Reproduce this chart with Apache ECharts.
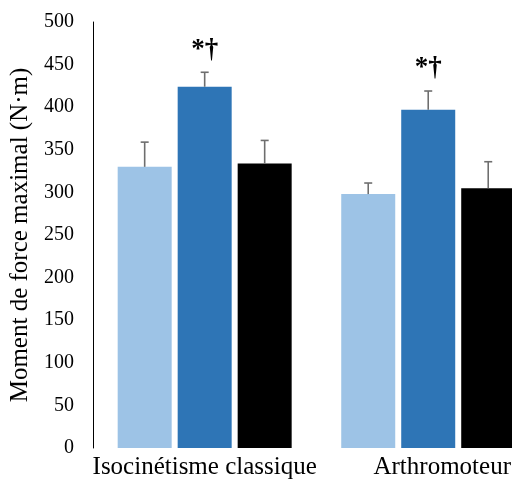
<!DOCTYPE html>
<html>
<head>
<meta charset="utf-8">
<script src="https://cdn.jsdelivr.net/npm/echarts@6/dist/echarts.min.js"></script>
<style>html,body{margin:0;padding:0;background:#fff;overflow:hidden;width:512px;height:480px}#c{width:540px;height:480px}</style>
</head>
<body>
<div id="c"></div>
<script>
var categories = ['Isocinétisme classique', 'Arthromoteur'];
var seriesNames = ['Série 1', 'Série 2', 'Série 3'];
var seriesColors = ['#9dc3e6', '#2e75b6', '#000000'];
var values1 = [330, 298];
var values2 = [424, 397];
var values3 = [334, 305];
var errors1 = [29, 13];
var errors2 = [17, 22];
var errors3 = [27, 31];
var annotations2 = ['*†', '*†'];
var yTicks = {min: 0, max: 500, interval: 50};

var values = [values1, values2, values3];
var errors = [errors1, errors2, errors3];
var annotations = [null, annotations2, null];

var FONT = '"Liberation Serif", "Times New Roman", serif';
var BAR_W = 54, GAP = 6;

var series = [];
for (var s = 0; s < 3; s++) {
  series.push({
    name: seriesNames[s], type: 'bar', data: values[s],
    barWidth: BAR_W, barGap: (GAP / BAR_W * 100).toFixed(1) + '%',
    itemStyle: {color: seriesColors[s]}, animation: false
  });
}
for (var s2 = 0; s2 < 3; s2++) {
  (function (si) {
    var d = values[si].map(function (v, i) { return [i, v, errors[si][i]]; });
    series.push({
      type: 'custom', data: d, animation: false, z: 5, clip: false,
      renderItem: function (params, api) {
        var i = api.value(0), v = api.value(1), e = api.value(2);
        var off = (si - 1) * (BAR_W + GAP);
        var p0 = api.coord([i, v]);
        var p1 = api.coord([i, v + e]);
        var x = p0[0] + off;
        var children = [
          {type: 'line', shape: {x1: x, y1: p0[1], x2: x, y2: p1[1]}, style: {stroke: '#6e6e6e', lineWidth: 1.6}},
          {type: 'line', shape: {x1: x - 4, y1: p1[1], x2: x + 4, y2: p1[1]}, style: {stroke: '#6e6e6e', lineWidth: 1.6}}
        ];
        var ann = annotations[si];
        if (ann && ann[params.dataIndex]) {
          children.push({type: 'text', style: {text: ann[params.dataIndex], x: x, y: p1[1] - 9,
            textAlign: 'center', textVerticalAlign: 'bottom', fill: '#000',
            font: 'bold 27px ' + FONT}});
        }
        return {type: 'group', children: children};
      }
    });
  })(s2);
}

var chart = echarts.init(document.getElementById('c'));
chart.setOption({
  backgroundColor: '#fff',
  animation: false,
  grid: {left: 92, top: 22, right: 0, bottom: 32, containLabel: false},
  xAxis: {
    type: 'category',
    data: [categories[0], {value: categories[1], textStyle: {padding: [0, 0, 0, 28]}}],
    axisLine: {show: false}, axisTick: {show: false},
    axisLabel: {color: '#000', fontFamily: FONT, fontSize: 25, margin: 7, interval: 0}
  },
  yAxis: {
    type: 'value', min: yTicks.min, max: yTicks.max, interval: yTicks.interval,
    name: 'Moment de force maximal (N·m)', nameLocation: 'middle', nameGap: 57,
    nameTextStyle: {color: '#000', fontFamily: FONT, fontSize: 25},
    axisLine: {show: true, lineStyle: {color: '#000', width: 1}},
    axisTick: {show: false}, splitLine: {show: false},
    axisLabel: {color: '#000', fontFamily: FONT, fontSize: 20, margin: 19, padding: [3, 0, 0, 0]}
  },
  series: series
});
</script>
</body>
</html>
